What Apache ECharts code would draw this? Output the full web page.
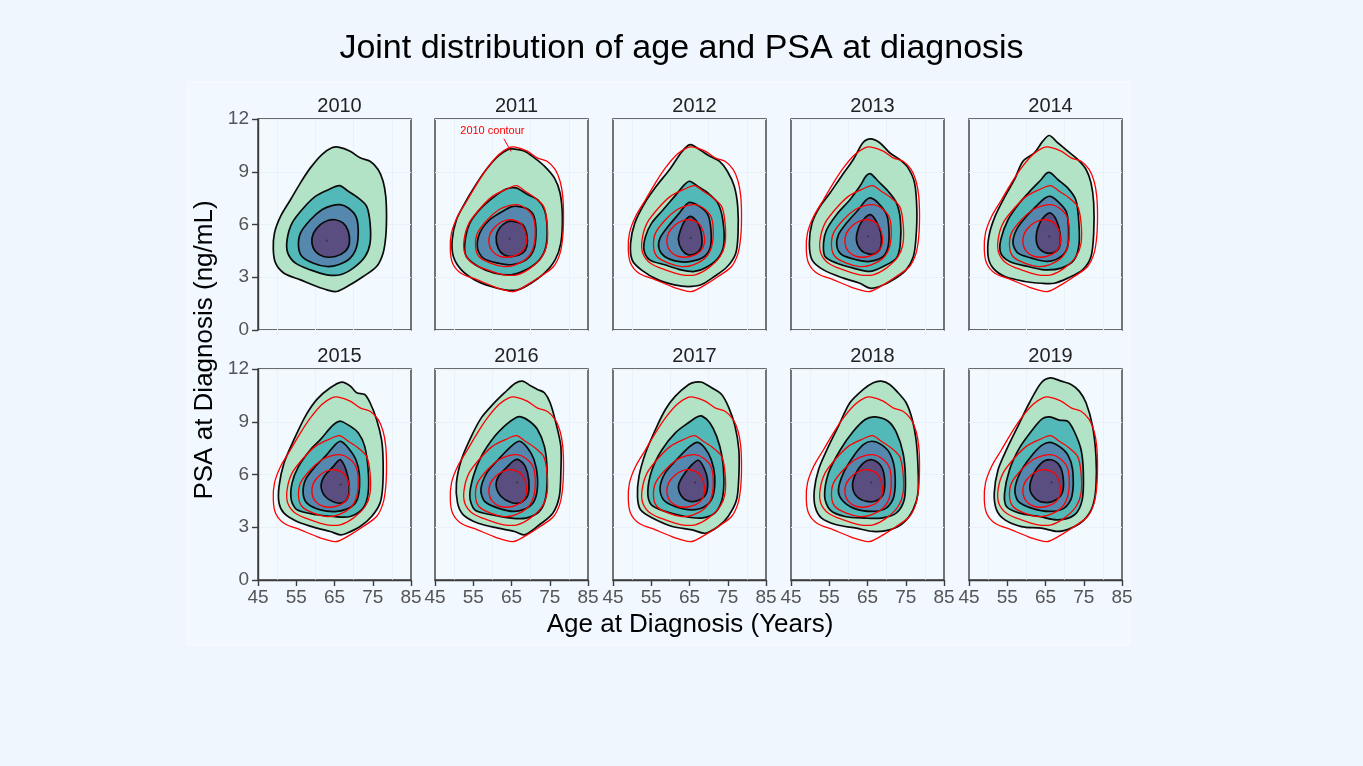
<!DOCTYPE html>
<html>
<head>
<meta charset="utf-8">
<script src="https://cdn.jsdelivr.net/npm/echarts@6/dist/echarts.min.js"></script>
<style>
html,body{margin:0;padding:0;background:#EFF6FE;}
#chart{width:1363px;height:766px;}
</style>
</head>
<body>
<div id="chart"></div>
<script>
// ---------------- DATA ----------------
const years = [2010, 2011, 2012, 2013, 2014, 2015, 2016, 2017, 2018, 2019];
const xTicks = [45, 55, 65, 75, 85];
const yTicks = [0, 3, 6, 9, 12];

// contour polygons [age, PSA], levels: outer -> inner
const contours2010 = [
  [[66.0,10.4],[69.1,10.17],[71.7,9.79],[74.3,9.6],[76.4,9.13],[77.7,8.46],[78.4,7.6],[78.6,6.46],[78.4,5.32],[77.7,4.37],[76.0,3.61],[72.5,3.04],[69.1,2.57],[65.6,2.19],[63.0,2.28],[60.4,2.47],[56.1,2.85],[51.8,3.23],[49.6,3.80],[49.0,4.56],[49.3,5.51],[50.9,6.46],[53.5,7.41],[56.1,8.37],[58.7,9.22],[61.7,9.98],[64.3,10.36]],
  [[66.3,8.21],[68.6,7.89],[71.2,7.51],[73.4,7.03],[74.3,6.08],[74.3,4.94],[73.0,4.18],[69.9,3.52],[66.5,3.14],[63.0,3.14],[58.7,3.42],[54.8,3.80],[52.8,4.37],[52.6,5.13],[53.9,6.08],[56.9,6.94],[60.0,7.60],[63.4,7.98]],
  [[66.5,7.13],[68.6,6.94],[70.6,6.46],[71.2,5.70],[70.8,4.75],[69.1,4.09],[66.0,3.71],[63.0,3.61],[59.5,3.80],[56.5,4.18],[55.6,4.75],[56.1,5.51],[58.7,6.27],[61.7,6.84],[64.3,7.07]],
  [[65.2,6.27],[67.3,6.08],[68.6,5.61],[68.9,4.94],[67.8,4.47],[65.2,4.18],[62.1,4.18],[60.0,4.47],[59.1,4.94],[59.5,5.51],[61.3,5.99],[63.4,6.24]]
];
const contours2011 = [
  [[65.3,10.3],[68.4,10.17],[71.0,9.79],[73.6,9.32],[76.2,8.65],[77.7,7.79],[78.3,6.46],[77.9,4.94],[76.4,3.99],[73.6,3.23],[70.1,2.66],[66.6,2.28],[63.2,2.28],[59.7,2.47],[55.4,2.85],[51.9,3.42],[49.8,4.18],[49.5,5.13],[50.6,6.27],[52.8,7.22],[55.4,8.17],[58.4,9.13],[61.5,9.89],[64.1,10.27]],
  [[66.2,8.08],[69.2,7.70],[71.8,7.41],[73.6,6.84],[74.3,5.89],[74.0,4.75],[72.3,3.99],[68.8,3.42],[64.9,3.14],[60.6,3.23],[56.3,3.61],[53.2,4.18],[52.8,4.94],[54.1,6.08],[57.1,6.94],[60.6,7.60],[63.6,8.02]],
  [[66.6,7.03],[69.2,6.88],[70.9,6.46],[71.4,5.51],[70.8,4.56],[68.8,3.99],[64.9,3.71],[61.5,3.80],[57.6,4.09],[56.1,4.66],[56.7,5.51],[59.3,6.27],[62.7,6.75],[64.9,7.00]],
  [[65.3,6.18],[67.9,5.99],[69.0,5.42],[69.0,4.75],[67.9,4.37],[65.3,4.18],[63.0,4.28],[61.5,4.66],[61.0,5.32],[61.9,5.80],[63.6,6.12]]
];
const contours2012 = [
  [[65.6,10.53],[67.6,10.27],[70.2,9.89],[72.8,9.60],[74.9,9.03],[76.7,8.17],[77.6,7.03],[77.7,5.51],[77.1,4.37],[74.9,3.61],[71.5,3.04],[68.0,2.57],[64.6,2.47],[61.1,2.57],[56.8,2.85],[52.4,3.42],[50.0,3.99],[49.6,4.94],[50.7,6.08],[53.3,7.22],[56.3,8.17],[59.8,9.13],[62.8,10.08],[64.6,10.49]],
  [[65.0,8.46],[67.2,8.17],[69.8,7.79],[72.4,7.22],[73.7,6.27],[74.0,4.94],[72.8,4.18],[69.8,3.61],[66.3,3.33],[62.8,3.42],[58.5,3.71],[54.6,3.99],[53.1,4.56],[53.5,5.32],[55.1,6.08],[58.1,6.84],[61.1,7.60],[63.7,8.27]],
  [[65.0,7.26],[67.6,7.03],[69.8,6.56],[70.6,5.70],[70.5,4.75],[68.9,4.18],[65.4,3.90],[62.0,3.90],[58.5,4.18],[57.0,4.66],[57.3,5.23],[59.4,5.89],[62.0,6.56],[63.7,7.03]],
  [[65.3,6.46],[67.2,6.08],[68.2,5.32],[68.0,4.66],[66.5,4.33],[64.6,4.28],[63.0,4.56],[62.1,5.13],[62.7,5.70],[63.7,6.18]]
];
const contours2013 = [
  [[65.8,10.87],[68.2,10.65],[70.8,10.08],[73.4,9.70],[75.6,9.22],[77.3,8.37],[77.9,6.84],[77.7,5.32],[77.0,4.18],[75.1,3.42],[71.7,2.85],[68.2,2.47],[65.6,2.38],[63.0,2.66],[58.7,2.95],[53.5,3.42],[50.5,3.99],[49.8,4.94],[50.5,6.08],[52.6,7.03],[55.2,7.79],[58.2,8.75],[61.3,9.70],[63.8,10.65]],
  [[65.8,8.88],[67.8,8.46],[70.4,7.89],[72.6,7.22],[73.6,6.27],[73.6,4.94],[72.6,4.09],[69.1,3.61],[65.6,3.33],[61.3,3.52],[57.0,3.80],[53.9,4.18],[53.5,4.94],[54.3,5.70],[56.9,6.56],[60.4,7.41],[63.0,8.17],[64.6,8.75]],
  [[65.8,7.51],[67.8,7.22],[70.0,6.56],[70.6,5.70],[70.4,4.75],[69.1,4.18],[65.6,3.90],[62.2,3.99],[58.3,4.28],[57.0,4.75],[57.4,5.42],[59.5,6.08],[62.6,6.84],[64.6,7.38]],
  [[65.8,6.56],[67.3,6.18],[68.5,5.51],[68.5,4.75],[67.2,4.37],[65.2,4.33],[63.2,4.56],[62.1,5.13],[62.8,5.89],[64.3,6.37]]
];
const contours2014 = [
  [[66.0,11.06],[68.2,10.65],[70.8,10.17],[73.4,9.70],[75.6,9.13],[76.9,8.37],[77.6,7.22],[77.6,5.51],[76.9,4.18],[74.7,3.42],[70.8,2.95],[67.3,2.66],[63.9,2.66],[59.6,2.76],[54.4,3.04],[51.3,3.52],[50.0,4.18],[50.2,5.32],[51.8,6.46],[54.4,7.60],[56.9,8.56],[59.1,9.60],[62.1,10.08],[64.3,10.74]],
  [[66.3,8.94],[68.2,8.56],[70.8,8.08],[72.9,7.41],[73.6,6.46],[73.8,4.94],[72.5,3.99],[69.1,3.52],[64.7,3.42],[60.4,3.61],[55.6,3.90],[53.3,4.37],[53.3,5.13],[55.2,6.27],[58.2,7.22],[61.3,7.98],[63.9,8.56],[65.2,8.90]],
  [[66.3,7.60],[68.2,7.32],[70.4,6.75],[71.0,5.89],[70.8,4.75],[69.1,4.18],[65.6,3.90],[61.3,4.09],[57.8,4.37],[56.5,4.94],[57.4,5.70],[60.0,6.46],[63.0,7.13],[64.9,7.51]],
  [[66.3,6.65],[67.8,6.27],[68.8,5.51],[68.7,4.75],[67.2,4.41],[64.8,4.41],[63.0,4.75],[62.6,5.42],[63.5,6.08],[64.9,6.50]]
];
const contours2015 = [
  [[66.9,11.25],[69.1,11.03],[70.8,10.65],[72.9,10.55],[74.3,10.08],[76.0,9.13],[77.3,7.98],[77.7,6.84],[77.6,5.32],[76.9,4.37],[74.7,3.61],[71.7,3.04],[68.2,2.66],[66.5,2.57],[63.9,2.76],[60.4,2.95],[55.2,3.33],[51.8,3.80],[50.5,4.37],[50.5,5.32],[51.8,6.65],[54.4,7.98],[57.4,9.32],[60.4,10.27],[63.9,10.93]],
  [[66.6,9.03],[69.1,8.75],[71.2,8.37],[72.9,7.60],[73.8,6.27],[73.8,4.94],[72.5,4.09],[69.1,3.61],[64.7,3.61],[60.4,3.71],[55.2,3.99],[53.7,4.56],[53.9,5.51],[55.6,6.46],[58.7,7.41],[61.3,7.98],[63.9,8.65],[65.4,8.94]],
  [[66.6,7.89],[68.6,7.51],[70.6,6.84],[71.5,5.99],[71.2,4.75],[69.5,4.18],[65.6,3.90],[61.3,3.99],[57.8,4.37],[56.8,4.94],[57.4,5.70],[60.0,6.46],[63.0,7.13],[65.2,7.70]],
  [[66.6,6.84],[68.0,6.27],[68.8,5.42],[68.6,4.75],[67.3,4.41],[65.2,4.41],[62.6,4.75],[61.5,5.32],[62.3,5.89],[64.7,6.46],[65.8,6.75]]
];
const contours2016 = [
  [[67.9,11.31],[70.1,11.03],[71.8,10.84],[73.6,10.65],[75.1,10.08],[76.6,8.94],[77.9,7.60],[77.9,6.08],[77.5,4.75],[75.8,3.80],[72.3,3.14],[68.4,2.57],[65.8,2.76],[61.5,2.95],[56.3,3.23],[52.4,3.71],[50.9,4.37],[50.6,5.51],[51.9,6.84],[54.5,8.17],[57.1,9.22],[59.7,9.89],[63.2,10.65],[66.0,11.19]],
  [[67.5,9.28],[69.7,9.03],[71.8,8.56],[73.6,7.60],[74.3,6.27],[74.0,4.75],[72.3,3.90],[68.8,3.52],[64.9,3.52],[59.7,3.71],[55.4,3.99],[54.1,4.75],[55.0,5.89],[57.1,7.03],[60.6,8.17],[63.6,8.84],[66.0,9.22]],
  [[67.1,7.89],[69.2,7.51],[70.9,6.84],[71.8,5.80],[71.4,4.75],[69.7,4.18],[65.8,3.90],[61.5,4.09],[58.0,4.47],[57.0,5.13],[58.5,6.08],[61.5,6.84],[64.9,7.60]],
  [[66.9,6.84],[68.6,6.46],[69.5,5.70],[69.3,4.84],[67.5,4.41],[64.9,4.41],[62.3,4.75],[61.0,5.32],[61.6,5.89],[64.0,6.46],[65.6,6.79]]
];
const contours2017 = [
  [[68.2,11.25],[70.8,10.93],[73.4,10.55],[75.3,9.79],[76.9,8.75],[77.9,7.41],[77.9,5.89],[77.3,4.56],[75.1,3.61],[72.5,3.04],[69.1,2.66],[65.7,2.85],[60.5,3.04],[55.3,3.52],[52.2,3.99],[51.4,4.75],[51.8,5.89],[53.5,7.22],[56.1,8.56],[58.7,9.70],[61.3,10.46],[64.8,11.12],[66.5,11.25]],
  [[68.3,9.32],[70.3,8.94],[72.1,8.17],[73.5,7.03],[74.0,5.70],[73.5,4.56],[71.6,3.80],[68.1,3.52],[63.8,3.61],[58.6,3.90],[55.0,4.28],[54.1,5.04],[55.2,6.27],[57.8,7.41],[61.3,8.37],[64.7,8.94],[67.1,9.28]],
  [[67.1,7.83],[69.0,7.51],[70.7,6.84],[71.6,5.89],[71.1,4.75],[69.0,4.18],[65.5,3.99],[61.2,4.18],[58.2,4.56],[57.3,5.23],[58.6,6.08],[61.6,6.84],[65.1,7.60]],
  [[67.3,6.81],[68.8,6.37],[69.7,5.70],[69.4,4.94],[67.7,4.56],[65.1,4.47],[63.0,4.75],[62.1,5.32],[63.2,5.89],[65.4,6.50]]
];
const contours2018 = [
  [[68.6,11.31],[70.8,11.12],[73.0,10.65],[75.1,10.08],[76.7,9.13],[77.7,7.98],[78.2,6.46],[78.2,4.94],[76.9,3.99],[74.3,3.23],[70.8,2.85],[66.5,2.76],[62.1,2.95],[56.9,3.14],[53.0,3.52],[51.3,4.18],[51.1,5.13],[52.2,6.27],[54.4,7.41],[57.4,8.75],[60.4,10.08],[63.9,10.84],[66.5,11.22]],
  [[66.9,9.28],[70.4,9.03],[72.6,8.37],[74.3,7.22],[74.9,5.89],[74.6,4.56],[72.5,3.80],[68.6,3.52],[64.3,3.52],[59.1,3.61],[55.2,3.99],[53.8,4.75],[54.8,6.08],[57.9,7.41],[61.3,8.46],[64.4,9.13]],
  [[66.1,7.89],[68.6,7.70],[70.8,7.22],[72.1,6.27],[71.9,4.75],[69.9,4.09],[66.1,3.90],[61.3,4.09],[58.3,4.56],[57.4,5.13],[58.7,6.08],[61.3,7.03],[63.9,7.70]],
  [[66.1,6.84],[68.3,6.56],[69.4,5.89],[69.2,4.94],[67.4,4.52],[64.8,4.47],[62.2,4.75],[61.1,5.32],[61.8,5.99],[63.9,6.65]]
];
const contours2019 = [
  [[66.3,11.50],[69.1,11.31],[71.7,11.12],[73.8,10.74],[75.6,10.08],[77.3,8.75],[78.2,7.03],[78.2,5.32],[77.3,4.18],[75.1,3.42],[71.7,2.95],[68.2,2.76],[63.9,2.95],[58.7,3.04],[54.4,3.42],[52.2,3.99],[51.6,4.94],[52.6,6.27],[54.8,7.41],[57.8,8.75],[60.8,10.08],[63.9,11.22]],
  [[66.1,9.28],[68.6,9.09],[70.8,9.03],[72.5,8.46],[74.3,7.41],[74.9,6.08],[74.6,4.56],[72.6,3.71],[68.2,3.42],[63.4,3.61],[58.2,3.80],[54.8,4.18],[54.3,4.94],[55.6,6.27],[58.2,7.51],[61.3,8.46],[64.1,9.16]],
  [[66.1,7.83],[68.6,7.60],[70.8,7.13],[72.1,6.27],[71.9,4.75],[69.9,4.09],[66.1,3.90],[61.3,4.09],[57.9,4.47],[57.0,5.13],[58.3,6.08],[60.9,6.94],[63.9,7.64]],
  [[66.1,6.84],[68.3,6.61],[69.5,5.99],[69.5,5.04],[67.8,4.56],[64.8,4.41],[62.2,4.66],[60.9,5.23],[61.8,5.99],[63.9,6.65]]
];
const contoursByYear = [contours2010, contours2011, contours2012, contours2013, contours2014,
                        contours2015, contours2016, contours2017, contours2018, contours2019];

// density peak per year
const peakAge = [63.0, 64.5, 65.3, 65.2, 66.0, 66.6, 66.5, 66.5, 66.0, 66.6];
const peakPSA = [5.08, 5.19, 5.23, 5.32, 5.32, 5.42, 5.55, 5.55, 5.55, 5.55];

// annotation in 2011 panel
const annotText = '2010 contour';
const annotLabelPos = [60.0, 11.3];
const annotLeader = [[63.0, 10.88], [64.9, 10.15]];

// ---------------- STYLE / LAYOUT ----------------
const fillColors = ['#B3E3C7', '#53B9B8', '#5588AE', '#5A4E80'];
const colLeft = [258, 435, 613, 791, 969];
const rowTop = [119, 369];
const panelW = 153, panelH = 211;
const axisColor = '#3c3c3c';
const gridLineColor = '#EAF1F9';
const font = '"Liberation Sans", Arial, sans-serif';

const grids = [], xAxes = [], yAxes = [], series = [], titles = [];
titles.push({
  text: 'Joint distribution of age and PSA at diagnosis',
  left: 'center', top: 27,
  textStyle: { fontSize: 34, fontWeight: 'normal', color: '#000', fontFamily: font }
});

function polySeries(i, pts, style, z) {
  return {
    type: 'custom', xAxisIndex: i, yAxisIndex: i, silent: true, z: z,
    clip: true,
    data: pts,
    renderItem: function (params, api) {
      if (params.dataIndex !== 0) return;
      const p = pts.map(d => api.coord(d));
      return { type: 'polygon', shape: { points: p, smooth: 0.3 }, style: style };
    }
  };
}

years.forEach((yr, i) => {
  const col = i % 5, row = Math.floor(i / 5);
  grids.push({
    left: colLeft[col], top: rowTop[row], width: panelW, height: panelH,
    show: true, backgroundColor: '#F2F9FF', borderColor: axisColor, borderWidth: 1.4,
    containLabel: false
  });
  xAxes.push({
    gridIndex: i, type: 'value', min: 45, max: 85, interval: 10,
    axisLine: { show: row === 1, lineStyle: { color: axisColor, width: 1.4 } },
    axisTick: { show: row === 1, length: 6, lineStyle: { color: axisColor, width: 1.4 } },
    axisLabel: { show: row === 1, fontSize: 19, color: '#555', margin: 8, fontFamily: font,
                 formatter: v => xTicks.includes(v) ? String(v) : '' },
    splitLine: { show: false },
    minorTick: { show: false, splitNumber: 2 },
    minorSplitLine: { show: true, lineStyle: { color: gridLineColor, width: 1 } }
  });
  yAxes.push({
    gridIndex: i, type: 'value', min: 0, max: 12, interval: 3,
    axisLine: { show: col === 0, lineStyle: { color: axisColor, width: 1.4 } },
    axisTick: { show: col === 0, length: 6, lineStyle: { color: axisColor, width: 1.4 } },
    axisLabel: { show: col === 0, fontSize: 19, color: '#555', margin: 9, fontFamily: font,
                 formatter: v => yTicks.includes(v) ? String(v) : '' },
    splitLine: { show: true, lineStyle: { color: gridLineColor, width: 1 } }
  });
  titles.push({
    text: String(yr), left: colLeft[col] + panelW / 2, top: rowTop[row] - 28,
    textAlign: 'center',
    textStyle: { fontSize: 20, fontWeight: 'normal', color: '#222', fontFamily: font }
  });

  const cs = contoursByYear[i];
  cs.forEach((pts, k) => {
    series.push(polySeries(i, pts, { fill: fillColors[k], stroke: '#0a0a0a', lineWidth: 1.7 }, 2 + k));
  });
  if (i > 0) {
    contours2010.forEach((pts) => {
      series.push(polySeries(i, pts, { fill: 'none', stroke: '#FF0000', lineWidth: 1.3 }, 7));
    });
  }
  series.push({
    type: 'scatter', xAxisIndex: i, yAxisIndex: i, silent: true, z: 8,
    symbolSize: 2.2, itemStyle: { color: '#333' },
    data: [[peakAge[i], peakPSA[i]]]
  });
});

// annotation in 2011 panel
series.push({
  type: 'custom', xAxisIndex: 1, yAxisIndex: 1, silent: true, z: 9, clip: false,
  data: [annotLabelPos],
  renderItem: function (params, api) {
    const lp = api.coord(annotLabelPos);
    const a = api.coord(annotLeader[0]);
    const b = api.coord(annotLeader[1]);
    return {
      type: 'group',
      children: [
        { type: 'line', shape: { x1: a[0], y1: a[1], x2: b[0], y2: b[1] }, style: { stroke: '#FF0000', lineWidth: 1 } },
        { type: 'text', x: lp[0], y: lp[1],
          style: { text: annotText, fill: '#FF0000', fontSize: 11, fontFamily: font, align: 'center', verticalAlign: 'middle' } }
      ]
    };
  }
});

const chart = echarts.init(document.getElementById('chart'), null, { renderer: 'canvas' });
chart.setOption({
  backgroundColor: '#EFF6FE',
  animation: false,
  title: titles,
  grid: grids,
  xAxis: xAxes,
  yAxis: yAxes,
  series: series,
  graphic: [
    { type: 'rect', z: -10, silent: true,
      shape: { x: 188, y: 82, width: 942, height: 563 },
      style: { fill: '#F1F8FF', stroke: '#FAFDFF', lineWidth: 1 } },
    { type: 'text', silent: true, x: 690, y: 625,
      style: { text: 'Age at Diagnosis (Years)', fontSize: 26, fill: '#000', fontFamily: font,
               align: 'center', verticalAlign: 'middle' } },
    { type: 'text', silent: true, x: 205, y: 350, rotation: Math.PI / 2,
      style: { text: 'PSA at Diagnosis (ng/mL)', fontSize: 26, fill: '#000', fontFamily: font,
               align: 'center', verticalAlign: 'middle' } }
  ]
});
</script>
</body>
</html>
